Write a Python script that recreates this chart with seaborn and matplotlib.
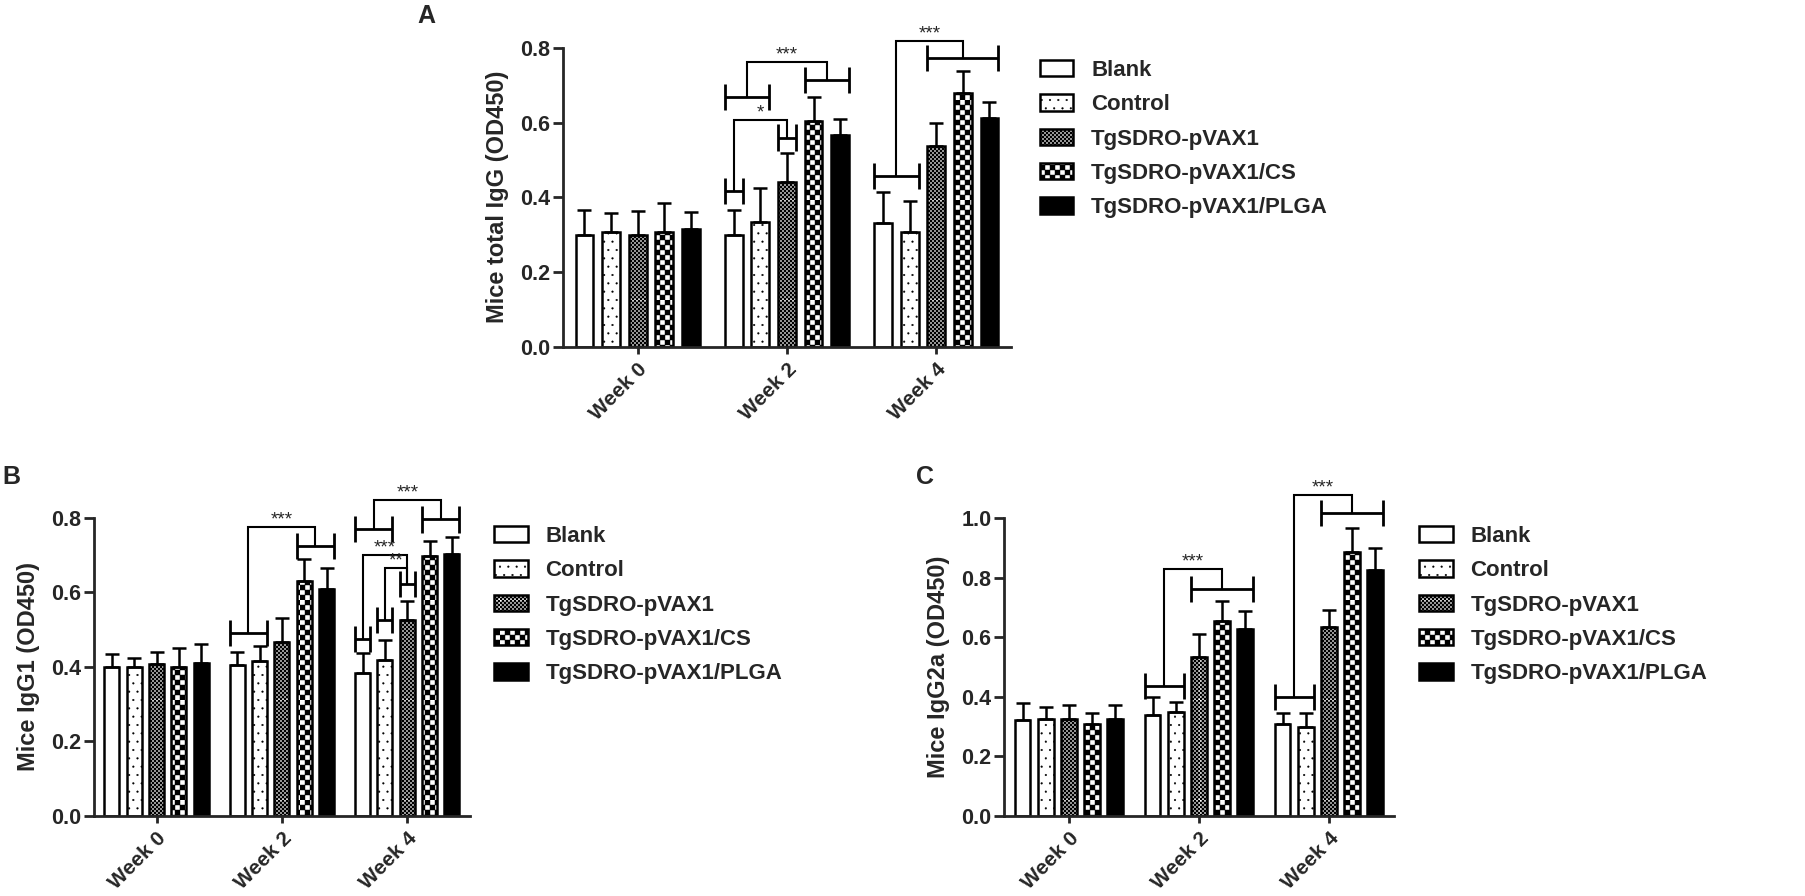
import warnings
import numpy as np
import pandas as pd
import matplotlib
matplotlib.use("Agg")
import matplotlib.pyplot as plt
import matplotlib.hatch as mhatch
from matplotlib.path import Path
from matplotlib.container import BarContainer
import seaborn as sns

warnings.filterwarnings("ignore")

# -----------------------------
# Data
# -----------------------------
weeks = ["Week 0", "Week 2", "Week 4"]
groups = ["Blank", "Control", "TgSDRO-pVAX1", "TgSDRO-pVAX1/CS", "TgSDRO-pVAX1/PLGA"]

# rows = weeks, columns = groups
igg_mean = [[0.298, 0.308, 0.298, 0.306, 0.316],
            [0.298, 0.335, 0.442, 0.603, 0.566],
            [0.332, 0.308, 0.537, 0.679, 0.613]]
igg_sem = [[0.068, 0.051, 0.066, 0.079, 0.044],
           [0.068, 0.089, 0.076, 0.066, 0.045],
           [0.083, 0.083, 0.061, 0.060, 0.043]]

igg1_mean = [[0.399, 0.399, 0.408, 0.401, 0.410],
             [0.406, 0.416, 0.467, 0.632, 0.608],
             [0.384, 0.419, 0.526, 0.697, 0.704]]
igg1_sem = [[0.037, 0.026, 0.031, 0.051, 0.051],
            [0.034, 0.040, 0.064, 0.058, 0.058],
            [0.054, 0.054, 0.051, 0.042, 0.044]]

igg2a_mean = [[0.323, 0.327, 0.324, 0.307, 0.327],
              [0.338, 0.349, 0.532, 0.653, 0.629],
              [0.310, 0.300, 0.633, 0.887, 0.826]]
igg2a_sem = [[0.055, 0.039, 0.047, 0.040, 0.046],
             [0.061, 0.032, 0.079, 0.070, 0.059],
             [0.037, 0.045, 0.059, 0.078, 0.074]]

yticks_ab = [0.0, 0.2, 0.4, 0.6, 0.8]
yticks_c = [0.0, 0.2, 0.4, 0.6, 0.8, 1.0]

# significance brackets: (week, first group, last group, y)
# links: (bracket a, bracket b, top y, label)
a_brackets = [(1, 0, 0, 0.416), (1, 2, 2, 0.560), (1, 0, 1, 0.668),
              (1, 3, 4, 0.715), (2, 0, 1, 0.458), (2, 2, 4, 0.772)]
a_links = [(0, 1, 0.608, "*"), (2, 3, 0.762, "***"), (4, 5, 0.818, "***")]

b_brackets = [(1, 0, 1, 0.490), (1, 3, 4, 0.724), (2, 0, 1, 0.770),
              (2, 3, 4, 0.796), (2, 0, 0, 0.476), (2, 1, 1, 0.526),
              (2, 2, 2, 0.624)]
b_links = [(0, 1, 0.776, "***"), (2, 3, 0.847, "***"),
           (4, 6, 0.700, "***"), (5, 6, 0.666, "**")]

c_brackets = [(1, 0, 1, 0.437), (1, 2, 4, 0.761), (2, 0, 1, 0.399),
              (2, 2, 4, 1.017)]
c_links = [(0, 1, 0.830, "***"), (2, 3, 1.078, "***")]

# -----------------------------
# Custom checkerboard hatch ('k')
# -----------------------------
class CheckerHatch(mhatch.HatchPatternBase):
    def __init__(self, hatch, density):
        self.num = hatch.count("k") * 5
        self.num_vertices = 10 * self.num ** 2

    def set_vertices_and_codes(self, vertices, codes):
        n = self.num
        s = 1.0 / (2 * n)
        sq = np.array([[0, 0], [s, 0], [s, s], [0, s], [0, 0]])
        cd = [Path.MOVETO, Path.LINETO, Path.LINETO, Path.LINETO, Path.CLOSEPOLY]
        k = 0
        for i in range(n):
            for j in range(n):
                for dx, dy in ((0, 0), (s, s)):
                    vertices[k:k + 5] = sq + [i / n + dx, j / n + dy]
                    codes[k:k + 5] = cd
                    k += 5


mhatch._hatch_types.append(CheckerHatch)

group_face = ["white", "white", "white", "white", "black"]
group_hatch = [None, "..", "kkkkk", "kk", None]

# -----------------------------
# Style
# -----------------------------
sns.set_style("ticks")
plt.rcParams["font.family"] = ["Liberation Sans", "DejaVu Sans"]
plt.rcParams["font.weight"] = "bold"
plt.rcParams["axes.labelweight"] = "bold"
plt.rcParams["hatch.linewidth"] = 0.3
plt.rcParams["axes.linewidth"] = 2.0

fig = plt.figure(figsize=(18.06, 8.96), dpi=100)


def draw_panel(rect, means, sems, ylabel, yticks, brackets, links, tick, leg_y):
    ax = fig.add_axes(rect)
    df = pd.DataFrame([
        {"week": weeks[w], "group": groups[g], "value": means[w][g]}
        for w in range(len(weeks)) for g in range(len(groups))
    ])
    sns.barplot(data=df, x="week", y="value", hue="group", order=weeks,
                hue_order=groups, palette=dict(zip(groups, group_face)),
                errorbar=None, width=0.89, gap=0.33, edgecolor="black",
                linewidth=1.8, saturation=1, ax=ax)

    bars = [c.patches for c in ax.containers if isinstance(c, BarContainer)]
    for g, patches in enumerate(bars):
        for w, p in enumerate(patches):
            p.set_facecolor(group_face[g])
            p.set_hatch(group_hatch[g])
            p.set_edgecolor("black")
            xs = p.get_x() + p.get_width() / 2
            ax.errorbar(xs, p.get_height(), yerr=[[0], [sems[w][g]]],
                        fmt="none", ecolor="black", elinewidth=1.8,
                        capsize=5, capthick=1.8, zorder=3)

    ax.legend([b[0] for b in bars], groups, loc="upper left",
              bbox_to_anchor=(1.065, leg_y), frameon=False, borderaxespad=0,
              borderpad=0, handlelength=1.5, handleheight=0.75,
              handletextpad=0.8, labelspacing=0.6,
              prop=dict(weight="bold", size=16))

    # significance brackets
    spans = []
    for w, g0, g1, y in brackets:
        x0 = bars[g0][w].get_x()
        x1 = bars[g1][w].get_x() + bars[g1][w].get_width()
        kw = dict(color="black", lw=2.0, clip_on=False, solid_capstyle="butt")
        ax.plot([x0, x1], [y, y], **kw)
        ax.plot([x0, x0], [y - tick, y + tick], **kw)
        ax.plot([x1, x1], [y - tick, y + tick], **kw)
        spans.append(((x0 + x1) / 2, y))
    for a, b, top, label in links:
        (xa, ya), (xb, yb) = spans[a], spans[b]
        ax.plot([xa, xa, xb, xb], [ya, top, top, yb], color="black", lw=1.5,
                clip_on=False, solid_joinstyle="miter")
        ax.annotate(label, ((xa + xb) / 2, top), xytext=(0, -1),
                    textcoords="offset points", ha="center", va="bottom",
                    fontsize=13.5, fontweight="normal", annotation_clip=False)

    ax.set_xlim(-0.5, 2.5)
    ax.set_ylim(0, yticks[-1])
    ax.set_yticks(yticks)
    ax.set_yticklabels([f"{t:.1f}" for t in yticks])
    ax.set_xlabel("")
    ax.set_ylabel(ylabel, fontsize=17, fontweight="bold", labelpad=8)
    sns.despine(ax=ax)
    ax.tick_params(axis="y", length=7, width=2, labelsize=15.5, pad=2)
    ax.tick_params(axis="x", length=5, width=2, labelsize=15, pad=4)
    for lab in ax.get_xticklabels():
        lab.set_rotation(45)
        lab.set_ha("right")
        lab.set_rotation_mode("anchor")
        lab.set_fontweight("bold")
    for lab in ax.get_yticklabels():
        lab.set_fontweight("bold")
    return ax


# =========================================================
# Panels
# =========================================================
draw_panel([0.3117, 0.6131, 0.2481, 0.3334], igg_mean, igg_sem,
           "Mice total IgG (OD450)", yticks_ab, a_brackets, a_links, 0.035, 0.96)
draw_panel([0.0520, 0.0893, 0.2082, 0.3326], igg1_mean, igg1_sem,
           "Mice IgG1 (OD450)", yticks_ab, b_brackets, b_links, 0.035, 0.973)
draw_panel([0.5559, 0.0893, 0.2159, 0.3326], igg2a_mean, igg2a_sem,
           "Mice IgG2a (OD450)", yticks_c, c_brackets, c_links, 0.044, 0.973)

fig.text(417 / 1806, 1 - 4 / 896, "A", ha="left", va="top", fontsize=18, fontweight="bold")
fig.text(2 / 1806, 1 - 465 / 896, "B", ha="left", va="top", fontsize=18, fontweight="bold")
fig.text(916 / 1806, 1 - 465 / 896, "C", ha="left", va="top", fontsize=18, fontweight="bold")

fig.savefig("out.png", dpi=100)
